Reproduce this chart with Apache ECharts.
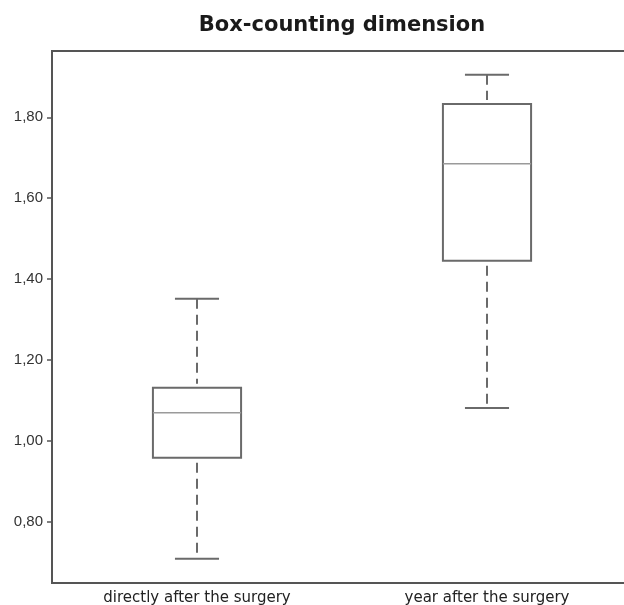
<!DOCTYPE html>
<html><head><meta charset="utf-8">
<script src="https://cdn.jsdelivr.net/npm/echarts@6/dist/echarts.min.js"></script>
<style>html,body{margin:0;padding:0;background:#fff}#c{width:624px;height:605px}</style>
</head><body><div id="c"></div>
<script>
const categories = ['directly after the surgery', 'year after the surgery'];
const lowerWhisker = [0.708, 1.081];
const q1Values = [0.958, 1.445];
const medianValues = [1.069, 1.685];
const q3Values = [1.131, 1.833];
const upperWhisker = [1.351, 1.905];
const yTickValues = [0.8, 1.0, 1.2, 1.4, 1.6, 1.8];
const titleText = 'Box-counting dimension';

const boxData = categories.map((c, i) => [i, lowerWhisker[i], q1Values[i], medianValues[i], q3Values[i], upperWhisker[i]]);

function renderItem(params, api) {
  const i = api.value(0);
  const band = api.size([1, 0])[0];
  const hw = band * 0.152;
  const cw = hw / 2;
  const pLo = api.coord([i, api.value(1)]);
  const pQ1 = api.coord([i, api.value(2)]);
  const pMed = api.coord([i, api.value(3)]);
  const pQ3 = api.coord([i, api.value(4)]);
  const pHi = api.coord([i, api.value(5)]);
  const x = pMed[0];
  const col = '#6a6a6a';
  const dash = { stroke: col, lineWidth: 2, lineDash: [10, 6] };
  return {
    type: 'group',
    children: [
      { type: 'rect', shape: { x: x - hw, y: pQ3[1], width: 2 * hw, height: pQ1[1] - pQ3[1] }, style: { fill: 'none', stroke: col, lineWidth: 2 } },
      { type: 'line', shape: { x1: x - hw, y1: pMed[1], x2: x + hw, y2: pMed[1] }, style: { stroke: '#9a9a9a', lineWidth: 1.5 } },
      { type: 'line', shape: { x1: x, y1: pHi[1], x2: x, y2: pQ3[1] - 4 }, style: dash },
      { type: 'line', shape: { x1: x, y1: pQ1[1] + 5, x2: x, y2: pLo[1] }, style: dash },
      { type: 'line', shape: { x1: x - cw, y1: pHi[1], x2: x + cw, y2: pHi[1] }, style: { stroke: col, lineWidth: 2 } },
      { type: 'line', shape: { x1: x - cw, y1: pLo[1], x2: x + cw, y2: pLo[1] }, style: { stroke: col, lineWidth: 2 } }
    ]
  };
}

const chart = echarts.init(document.getElementById('c'), null, { renderer: 'canvas' });
chart.setOption({
  animation: false,
  backgroundColor: '#fff',
  title: {
    text: titleText, left: 342, top: 15, textAlign: 'center', padding: 0,
    textStyle: { fontFamily: 'DejaVu Sans', fontWeight: 'bold', fontSize: 21, color: '#1a1a1a' }
  },
  grid: { left: 52, top: 51, width: 580, height: 532, show: true, borderColor: '#555', borderWidth: 2, containLabel: false, outerBoundsMode: 'none' },
  xAxis: {
    type: 'category', data: categories,
    axisLine: { show: false }, axisTick: { show: false }, splitLine: { show: false },
    axisLabel: { margin: 8, fontFamily: 'DejaVu Sans', fontSize: 15, color: '#222' }
  },
  yAxis: {
    type: 'value', min: 0.648, max: 1.964,
    axisLine: { show: false }, splitLine: { show: false },
    axisTick: { show: true, length: 5, lineStyle: { color: '#555', width: 1.5 }, customValues: yTickValues },
    axisLabel: {
      margin: 9, fontFamily: 'Liberation Sans', fontSize: 15, color: '#333',
      customValues: yTickValues,
      formatter: v => v.toFixed(2).replace('.', ',')
    }
  },
  series: [{
    type: 'custom', renderItem: renderItem, data: boxData,
    encode: { x: 0, y: [1, 2, 3, 4, 5] }, clip: false
  }]
});
</script></body></html>
